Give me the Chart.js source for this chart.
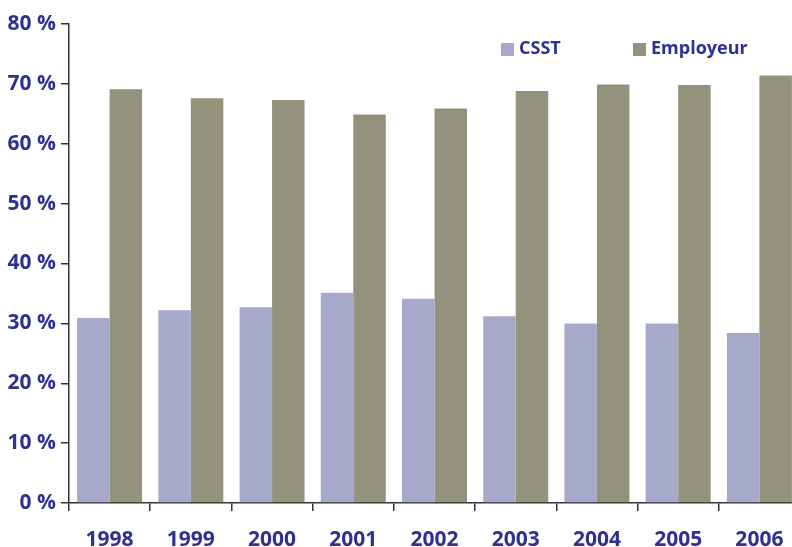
<!DOCTYPE html>
<html>
<head>
<meta charset="utf-8">
<script src="https://cdn.jsdelivr.net/npm/chart.js@4"></script>
<style>
    html, body { margin: 0; padding: 0; background: #fff; overflow: hidden; }
    #wrap { width: 800px; height: 547px; }
</style>
</head>
<body>
<div id="wrap"><canvas id="partChart"></canvas></div>
<script>
// Répartition CSST / Employeur (%)
const years = ['1998', '1999', '2000', '2001', '2002', '2003', '2004', '2005', '2006'];
const csst = [30.9, 32.2, 32.7, 35.1, 34.1, 31.2, 30.0, 30.0, 28.4];
const employeur = [69.1, 67.6, 67.3, 64.9, 65.9, 68.8, 69.9, 69.8, 71.4];
const yTicks = [0, 10, 20, 30, 40, 50, 60, 70, 80];

const textColor = '#2e3192';
const axisColor = '#333333';
const fontFamily = "'Open Sans', sans-serif";

// legende dessinee a la main, en haut a droite
const customLegend = {
    id: 'customLegend',
    afterDraw(chart) {
        const ctx = chart.ctx;
        const items = [
            { x: 501, ds: chart.data.datasets[0] },
            { x: 633, ds: chart.data.datasets[1] }
        ];
        ctx.save();
        ctx.font = 'bold 18px ' + fontFamily;
        ctx.textBaseline = 'middle';
        items.forEach(item => {
            ctx.fillStyle = item.ds.backgroundColor;
            ctx.fillRect(item.x, 43, 13, 13);
            ctx.fillStyle = textColor;
            ctx.fillText(item.ds.label, item.x + 18, 49);
        });
        ctx.restore();
    }
};

const ctx = document.getElementById('partChart').getContext('2d');
const partChart = new Chart(ctx, {
    type: 'bar',
    data: {
        labels: years,
        datasets: [{
            label: 'CSST',
            data: csst,
            backgroundColor: '#a6a9c9',
            borderWidth: 0
        }, {
            label: 'Employeur',
            data: employeur,
            backgroundColor: '#94917d',
            borderWidth: 0
        }]
    },
    options: {
        responsive: true,
        maintainAspectRatio: false,
        animation: false,
        layout: {
            padding: { top: 24, right: 0, bottom: 0, left: 0 }
        },
        datasets: {
            bar: {
                barPercentage: 1.0,
                categoryPercentage: 0.8
            }
        },
        plugins: {
            legend: { display: false },
            tooltip: { enabled: false }
        },
        scales: {
            x: {
                grid: {
                    display: true,
                    drawOnChartArea: false,
                    drawTicks: true,
                    tickLength: 8,
                    color: axisColor,
                    lineWidth: 1.5
                },
                border: { display: true, color: axisColor, width: 1.5 },
                ticks: {
                    color: textColor,
                    font: { family: fontFamily, size: 21, weight: 'bold' },
                    padding: 16,
                    maxRotation: 0
                },
                afterFit(scale) { scale.height = 44; }
            },
            y: {
                min: 0,
                max: 80,
                afterBuildTicks(scale) {
                    scale.ticks = yTicks.map(v => ({ value: v }));
                },
                grid: {
                    display: true,
                    drawOnChartArea: false,
                    drawTicks: true,
                    tickLength: 8,
                    color: axisColor,
                    lineWidth: 1.5
                },
                border: { display: true, color: axisColor, width: 1.5 },
                ticks: {
                    color: textColor,
                    font: { family: fontFamily, size: 21, weight: 'bold' },
                    padding: 5,
                    callback: v => v + ' %'
                },
                afterFit(scale) { scale.width = 69; }
            }
        }
    },
    plugins: [customLegend]
});
</script>
</body>
</html>
